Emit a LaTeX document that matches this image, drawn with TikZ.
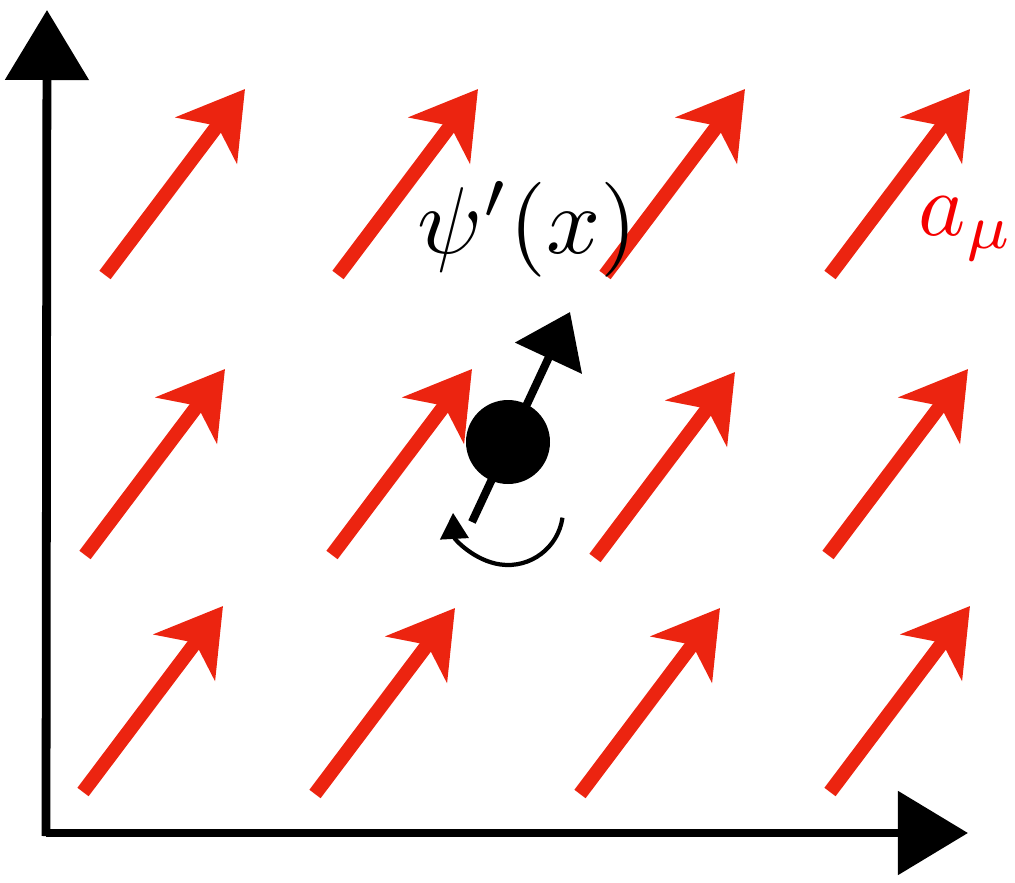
\documentclass[tikz,border=0pt]{standalone}
\usepackage{amsmath, amssymb}
\usepackage{tikz}
\usetikzlibrary{arrows.meta}
\usepackage{xcolor}

\begin{document}
\begin{tikzpicture}
  \definecolor{fieldred}{RGB}{236,36,16}
  \definecolor{labelred}{RGB}{245,0,0}

  \tikzset{
    field/.style={fieldred, line width=4pt,
      -{Stealth[length=6.4mm, width=7.6mm, inset=1.8mm]}},
    axis/.style={black, line width=2.5pt,
      -{Triangle[length=7mm, width=8.2mm]}},
    spin/.style={black, line width=2.3pt,
      -{Triangle[length=5.1mm, width=7.2mm]}},
    rotarrow/.style={black, line width=1.2pt,
      -{Triangle[length=2.6mm, width=2.8mm]}},
  }

  \useasboundingbox (0,0) rectangle (10.15,8.82);

  % axes
  \coordinate (origin) at (0.46,0.46);
  \coordinate (ytip) at (0.47,8.72);
  \coordinate (xtip) at (9.68,0.49);
  \draw[axis] (origin) -- (ytip);
  \draw[axis] (0.46,0.49) -- (xtip);

  % the field a_mu
  \draw[field] (1.05,6.07) -- ++(1.40,1.86);
  \draw[field] (3.38,6.07) -- ++(1.40,1.86);
  \draw[field] (6.05,6.07) -- ++(1.40,1.86);
  \draw[field] (8.30,6.07) -- ++(1.40,1.86);

  \draw[field] (0.85,3.27) -- ++(1.40,1.86);
  \draw[field] (3.32,3.27) -- ++(1.40,1.86);
  \draw[field] (5.95,3.24) -- ++(1.40,1.86);
  \draw[field] (8.28,3.27) -- ++(1.40,1.86);

  \draw[field] (0.83,0.90) -- ++(1.40,1.86);
  \draw[field] (3.15,0.88) -- ++(1.40,1.86);
  \draw[field] (5.80,0.88) -- ++(1.40,1.86);
  \draw[field] (8.30,0.90) -- ++(1.40,1.86);

  % the particle
  \coordinate (spintail) at (4.72,3.60);
  \coordinate (spintip) at (5.70,5.70);
  \draw[spin] (spintail) -- (spintip);
  \node[circle, fill=black, inner sep=0pt, minimum size=0.84cm] (particle) at (5.08,4.40) {};

  \coordinate (rotcenter) at (5.08,3.72);
  \draw[rotarrow] (rotcenter) ++(-8:0.55) arc[start angle=-8, end angle=-177, radius=0.55];

  % labels
  \node[anchor=base west, scale=2.7, inner sep=0pt] (psi) at (4.16,6.29) {$\psi'(x)$};
  \node[anchor=base west, scale=2.55, inner sep=0pt, text=labelred] (amu) at (9.17,6.47) {$a_\mu$};

\end{tikzpicture}
\end{document}
